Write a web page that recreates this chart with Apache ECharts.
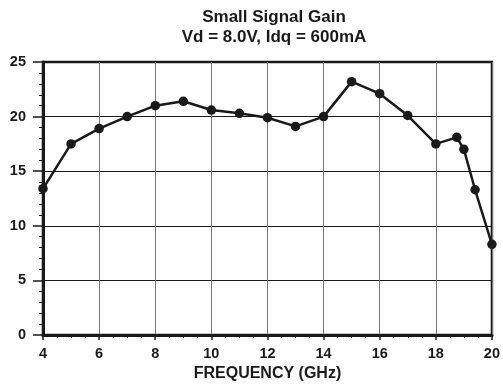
<!DOCTYPE html>
<html><head><meta charset="utf-8">
<script src="https://cdn.jsdelivr.net/npm/echarts@6/dist/echarts.min.js"></script>
<style>html,body{margin:0;padding:0;background:#fff}#c{width:503px;height:387px}</style>
</head><body><div id="c"></div>
<script>
const freqGHz = [4, 5, 6, 7, 8, 9, 10, 11, 12, 13, 14, 15, 16, 17, 18, 18.75, 19, 19.4, 20];
const gainDB  = [13.4, 17.5, 18.9, 20.0, 21.0, 21.4, 20.6, 20.3, 19.9, 19.1, 20.0, 23.2, 22.1, 20.1, 17.5, 18.1, 17.0, 13.3, 8.3];
const titleLines = ['Small Signal Gain', 'Vd = 8.0V, Idq = 600mA'];
const xAxisName = 'FREQUENCY (GHz)';

const font = 'Liberation Sans, Arial, Helvetica, sans-serif';
const chart = echarts.init(document.getElementById('c'), null, {renderer: 'canvas'});
chart.setOption({
  animation: false,
  backgroundColor: '#fff',
  title: {
    text: titleLines.join('\n'),
    left: 269, top: 2, textAlign: 'center',
    textStyle: {fontFamily: font, fontWeight: 'bold', fontSize: 17, color: '#1a1a1a', lineHeight: 20}
  },
  grid: {left: 43, right: 8, top: 62, bottom: 52, show: true, borderColor: '#1a1a1a', borderWidth: 2.5, backgroundColor: 'transparent'},
  xAxis: {
    type: 'value', min: 4, max: 20, interval: 2,
    name: xAxisName, nameLocation: 'middle', nameGap: 29,
    nameTextStyle: {fontFamily: font, fontWeight: 'bold', fontSize: 16, color: '#1a1a1a'},
    axisLine: {lineStyle: {color: '#1a1a1a', width: 3}},
    axisTick: {length: 5, lineStyle: {color: '#1a1a1a', width: 1.5}},
    minorTick: {show: true, splitNumber: 4, length: 3, lineStyle: {color: '#1a1a1a', width: 1}},
    axisLabel: {fontFamily: font, fontWeight: 'bold', fontSize: 14.5, color: '#1a1a1a', margin: 11},
    splitLine: {show: true, lineStyle: {color: '#777', width: 1}}
  },
  yAxis: {
    type: 'value', min: 0, max: 25, interval: 5,
    axisLine: {show: true, lineStyle: {color: '#1a1a1a', width: 3}},
    axisTick: {show: true, length: 10, lineStyle: {color: '#1a1a1a', width: 1.5}},
    minorTick: {show: true, splitNumber: 5, length: 4, lineStyle: {color: '#1a1a1a', width: 1}},
    axisLabel: {fontFamily: font, fontWeight: 'bold', fontSize: 14.5, color: '#1a1a1a', margin: 17},
    splitLine: {show: true, lineStyle: {color: '#1a1a1a', width: 1}}
  },
  series: [{
    type: 'line',
    data: freqGHz.map((f, i) => [f, gainDB[i]]),
    symbol: 'circle', symbolSize: 9.5,
    lineStyle: {color: '#1a1a1a', width: 2.5},
    itemStyle: {color: '#1a1a1a'},
    clip: false
  }]
});
</script></body></html>
